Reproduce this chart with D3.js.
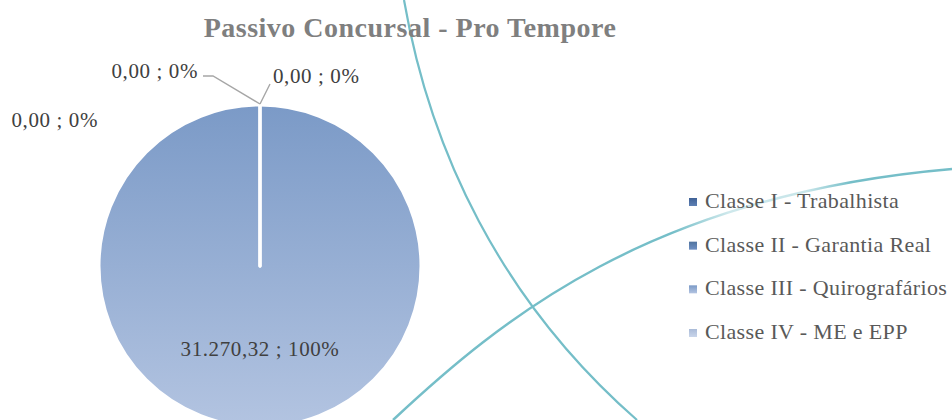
<!DOCTYPE html>
<html>
<head>
<meta charset="utf-8">
<script src="https://cdn.jsdelivr.net/npm/d3@7"></script>
<style>
  html, body { margin: 0; padding: 0; background: #ffffff; }
  svg { display: block; }
  text { font-family: "Liberation Serif", "DejaVu Serif", serif; }
</style>
</head>
<body>
<svg id="chart" width="952" height="420"></svg>
<script>
// Liabilities by creditor class
const categories = [
  "Classe I - Trabalhista",
  "Classe II - Garantia Real",
  "Classe III - Quirografários",
  "Classe IV - ME e EPP"
];
const values = [0, 0, 31270.32, 0];
const chartTitle = "Passivo Concursal - Pro Tempore";

// Gradient end colours per class (top, bottom)
const classColors = [
  ["#3f6196", "#5e80b4"],
  ["#50739f", "#6f90c4"],
  ["#7b9ac7", "#b3c4e1"],
  ["#aabbd8", "#c9d5ea"]
];

const W = 952, H = 420;
const svg = d3.select("#chart");
const defs = svg.append("defs");

// Decorative background swooshes (cubic curves)
defs.append("filter").attr("id", "soft")
  .append("feGaussianBlur").attr("stdDeviation", 0.5);

const fadeB = defs.append("linearGradient").attr("id", "fadeB")
  .attr("gradientUnits", "userSpaceOnUse")
  .attr("x1", 393).attr("x2", 952).attr("y1", 0).attr("y2", 0);
[[0, 1], [0.5, 1], [0.6, 0.35], [0.74, 0.4], [0.82, 1], [1, 1]].forEach(([o, a]) =>
  fadeB.append("stop").attr("offset", o).attr("stop-color", "#74bec8").attr("stop-opacity", a));

function cubic(p) {
  const path = d3.path();
  path.moveTo(p[0][0], p[0][1]);
  path.bezierCurveTo(p[1][0], p[1][1], p[2][0], p[2][1], p[3][0], p[3][1]);
  return path.toString();
}
const swooshA = [[404, 0], [430, 150], [500, 300], [637, 420]];
const swooshB = [[393, 420], [500, 320], [650, 195], [952, 169]];

const deco = svg.append("g").attr("filter", "url(#soft)");
deco.append("path").attr("d", cubic(swooshA))
  .attr("fill", "none").attr("stroke", "#74bec8").attr("stroke-width", 2.2);
deco.append("path").attr("d", cubic(swooshB))
  .attr("fill", "none").attr("stroke", "url(#fadeB)").attr("stroke-width", 2.4);

// Title
svg.append("text")
  .attr("x", 410).attr("y", 37)
  .attr("text-anchor", "middle")
  .attr("font-size", 28).attr("font-weight", "bold").attr("letter-spacing", 0.5)
  .attr("fill", "#7f7f7f")
  .text(chartTitle);

// Pie
const cx = 260, cy = 266, r = 161;
const total = d3.sum(values);
const ptBR = d3.formatLocale({ decimal: ",", thousands: ".", grouping: [3], currency: ["R$", ""] });
const fmtValue = ptBR.format(",.2f");
const fmtLabel = v => fmtValue(v) + " ; " + Math.round(v / total * 100) + "%";

classColors.forEach((c, i) => {
  const g = defs.append("linearGradient").attr("id", "grad" + i)
    .attr("gradientUnits", "userSpaceOnUse")
    .attr("x1", 0).attr("x2", 0).attr("y1", -r).attr("y2", r);
  g.append("stop").attr("offset", 0).attr("stop-color", c[0]);
  g.append("stop").attr("offset", 1).attr("stop-color", c[1]);
  const m = defs.append("linearGradient").attr("id", "mark" + i)
    .attr("x1", 0).attr("x2", 0).attr("y1", 0).attr("y2", 1);
  m.append("stop").attr("offset", 0).attr("stop-color", c[0]);
  m.append("stop").attr("offset", 1).attr("stop-color", c[1]);
});

const pie = d3.pie().sort(null).value(d => d);
const arcs = pie(values).map((a, i) => Object.assign(a, { index: i }));
const arc = d3.arc().innerRadius(0).outerRadius(r);
const labelArc = d3.arc().innerRadius(r * 0.52).outerRadius(r * 0.52);

const pieG = svg.append("g").attr("transform", `translate(${cx},${cy})`);
// larger slices first so the separators of empty slices stay visible
pieG.selectAll("path.slice")
  .data(arcs.slice().sort((a, b) => b.value - a.value))
  .join("path")
  .attr("class", "slice")
  .attr("d", arc)
  .attr("fill", d => `url(#grad${d.index})`)
  .attr("stroke", "#ffffff")
  .attr("stroke-width", 3)
  .attr("stroke-linejoin", "round");

// Data labels: inside for non-empty slices, outside (with leader) for empty ones
const outsideOffsets = {
  0: { dx: 13, dy: -21, anchor: "start", leader: [[0, 0], [10, -20]] },
  1: { dx: -62, dy: -26, anchor: "end", leader: [[0, 0], [-47, -28], [-57, -28]] },
  3: { dx: -162, dy: 23, anchor: "end", leader: null }
};
const lineGen = d3.line();
arcs.forEach(d => {
  if (d.value > 0) {
    const [lx, ly] = labelArc.centroid(d);
    pieG.append("text")
      .attr("x", lx).attr("y", ly + 6)
      .attr("text-anchor", "middle")
      .attr("font-size", 21).attr("letter-spacing", 0.6)
      .attr("fill", "#404040")
      .text(fmtLabel(d.value));
  } else {
    const o = outsideOffsets[d.index];
    const angle = d.startAngle;
    const ax = Math.sin(angle) * r, ay = -Math.cos(angle) * r - 1;
    if (o.leader) {
      pieG.append("path")
        .attr("d", lineGen(o.leader.map(([x, y]) => [ax + x, ay + y])))
        .attr("fill", "none").attr("stroke", "#a6a6a6").attr("stroke-width", 1.4);
    }
    pieG.append("text")
      .attr("x", ax + o.dx).attr("y", ay + o.dy)
      .attr("text-anchor", o.anchor)
      .attr("font-size", 21).attr("letter-spacing", 0.6)
      .attr("fill", "#404040")
      .text(fmtLabel(d.value));
  }
});

// Legend
const legendY = d3.scalePoint().domain(categories).range([208, 339]);
const legend = svg.append("g").selectAll("g").data(categories).join("g")
  .attr("transform", d => `translate(689,${legendY(d)})`);
legend.append("rect")
  .attr("x", 0).attr("y", -10).attr("width", 8).attr("height", 8)
  .attr("fill", (d, i) => `url(#mark${i})`);
legend.append("text")
  .attr("x", 16).attr("y", 0)
  .attr("font-size", 22).attr("letter-spacing", 0.35)
  .attr("fill", "#595959")
  .text(d => d);
</script>
</body>
</html>
